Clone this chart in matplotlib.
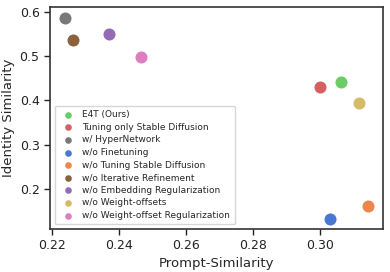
import matplotlib
matplotlib.use('Agg')
import matplotlib.pyplot as plt
import seaborn as sns

labels = ['E4T (Ours)', 'Tuning only Stable Diffusion', 'w/ HyperNetwork',
          'w/o Finetuning', 'w/o Tuning Stable Diffusion', 'w/o Iterative Refinement',
          'w/o Embedding Regularization', 'w/o Weight-offsets',
          'w/o Weight-offset Regularization']
prompt_sim = [0.3063, 0.3000, 0.2239, 0.3030, 0.3143, 0.2263, 0.2370, 0.3116, 0.2466]
identity_sim = [0.442, 0.431, 0.586, 0.132, 0.162, 0.537, 0.550, 0.395, 0.498]

sns.set_theme(style='ticks')
plt.rcParams['font.family'] = ['DejaVu Sans']
colors = sns.color_palette('muted')
color_idx = [2, 3, 7, 0, 1, 5, 4, 8, 6]

fig = plt.figure(figsize=(3.9, 2.72), dpi=100)
ax = fig.add_axes([50 / 390, 1 - 229 / 272, 333 / 390, 222 / 272])
for lab, x, y, ci in zip(labels, prompt_sim, identity_sim, color_idx):
    ax.scatter(x, y, s=75, color=colors[ci], linewidth=0, label=lab)

ax.set_xlim(0.2194, 0.3188)
ax.set_ylim(0.1097, 0.611)
ax.set_xticks([0.22, 0.24, 0.26, 0.28, 0.30])
ax.set_yticks([0.2, 0.3, 0.4, 0.5, 0.6])
ax.tick_params(labelsize=9, length=4, width=1, colors='#222222')
for sp in ax.spines.values():
    sp.set_color('#333333')
    sp.set_linewidth(1.2)
ax.set_xlabel('Prompt-Similarity', fontsize=9.5, labelpad=3)
ax.set_ylabel('Identity Similarity', fontsize=9.5, labelpad=3)
ax.legend(loc='lower left', fontsize=6.5, markerscale=0.55, handletextpad=0.6,
          labelspacing=0.4, borderpad=0.5, bbox_to_anchor=(0.0, 0.0))

fig.savefig('out.png', dpi=100)
